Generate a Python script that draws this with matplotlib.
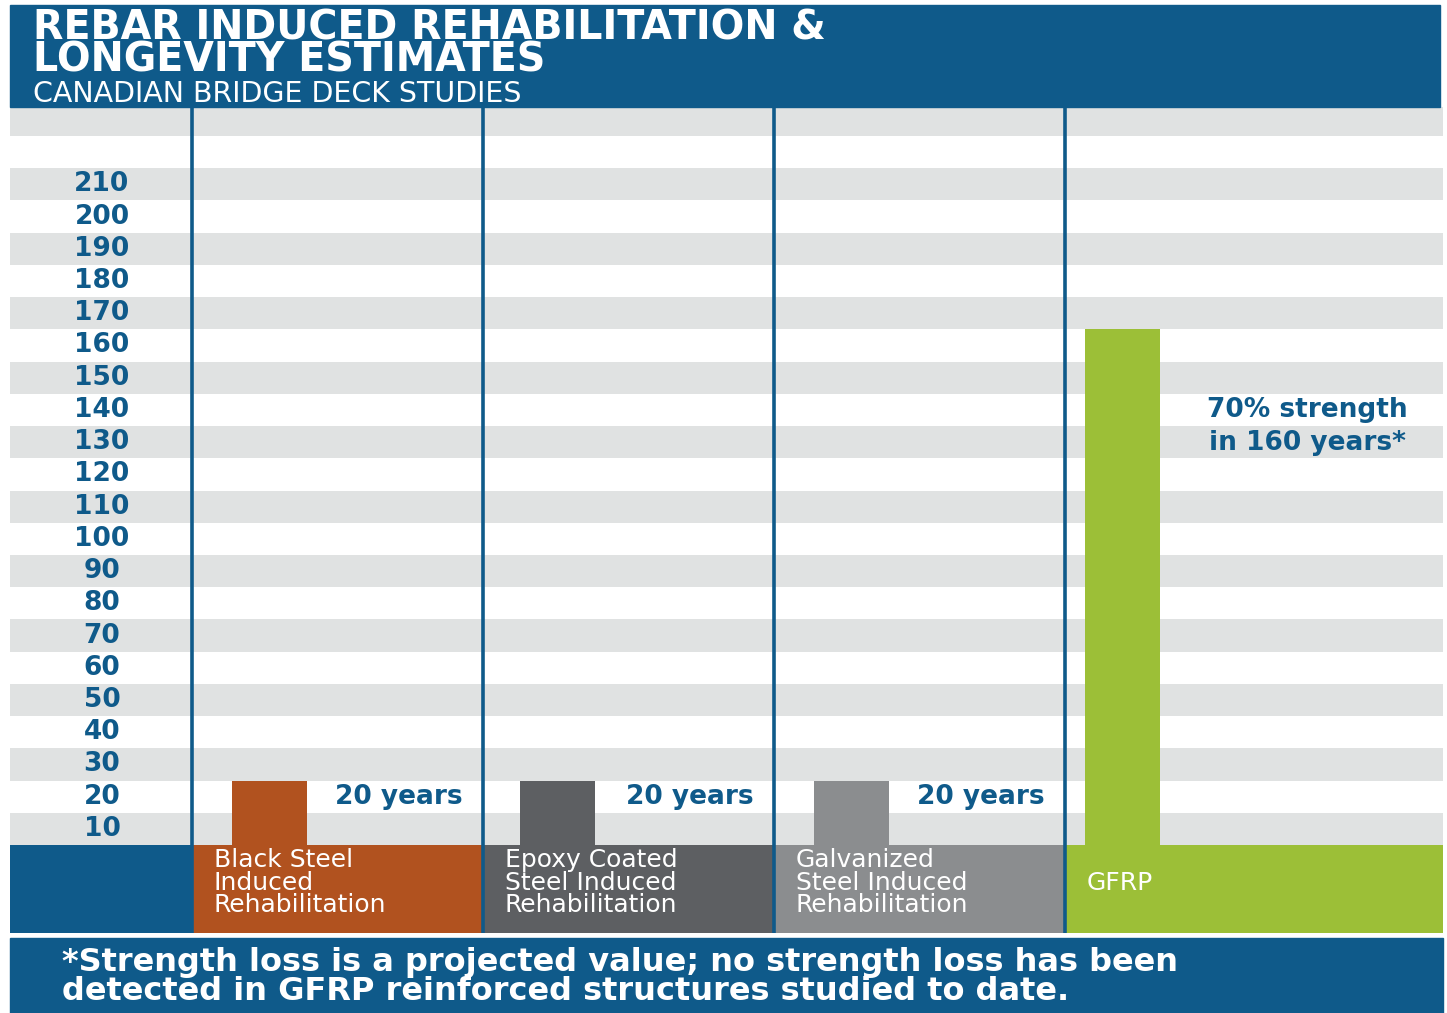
import numpy as np
import matplotlib
matplotlib.use('Agg')
import matplotlib.pyplot as plt
from matplotlib.patches import Rectangle

# lifetime estimates (years) per reinforcement type
categories = ['Black Steel\nInduced\nRehabilitation',
              'Epoxy Coated\nSteel Induced\nRehabilitation',
              'Galvanized\nSteel Induced\nRehabilitation',
              'GFRP']
years = [20, 20, 20, 160]
bar_notes = ['20 years', '20 years', '20 years', '70% strength\nin 160 years*']
tick_values = list(range(10, 220, 10))

# colours
BLUE = '#0f5a8a'
STRIPE = '#e0e2e2'
bar_colors = ['#b1521f', '#5d5f62', '#8b8d8f', '#9cbf37']

W, H = 1447, 1013
fig = plt.figure(figsize=(W / 100, H / 100), dpi=100)
fig.patch.set_facecolor('white')


def fx(px):
    return px / W


def fy(py):
    return 1 - py / H


# column layout in pixels
col_edges = [192, 483, 774, 1065, 1443]
bar_offset = [40, 37, 40, 20]
bar_width = 75

# header
fig.patches.append(Rectangle((fx(10), fy(107)), fx(1440) - fx(10), fy(5) - fy(107),
                             transform=fig.transFigure, color=BLUE, zorder=0))
fig.text(fx(33), fy(8), 'REBAR INDUCED REHABILITATION &\nLONGEVITY ESTIMATES',
         color='white', fontsize=28.5, fontweight='bold', family='DejaVu Sans',
         va='top', linespacing=0.75)
fig.text(fx(33), fy(94), 'CANADIAN BRIDGE DECK STUDIES', color='white',
         fontsize=20.5, family='DejaVu Sans', va='center')

# main striped chart area
ax = fig.add_axes([fx(10), fy(845), fx(1443) - fx(10), fy(107) - fy(845)])
ax.set_xlim(10, 1443)
ax.set_ylim(0, 229)
ax.axis('off')
for i in range(0, 23):
    if i % 2 == 0:
        ax.axhspan(i * 10, i * 10 + 10, color=STRIPE, lw=0, zorder=0)
for v in tick_values:
    ax.text(102, v - 5, str(v), ha='center', va='center', color=BLUE,
            fontsize=19, fontweight='bold', family='DejaVu Sans')
for x in col_edges[:-1]:
    ax.axvline(x, color=BLUE, lw=2.6, zorder=3)

for i, (y, c) in enumerate(zip(years, bar_colors)):
    left = col_edges[i] + bar_offset[i]
    ax.bar(left, y, width=bar_width, align='edge', color=c, lw=0, zorder=2)
    if i < 3:
        ax.text(col_edges[i + 1] - 20, y - 5, bar_notes[i], ha='right', va='center',
                color=BLUE, fontsize=19, fontweight='bold', family='DejaVu Sans')
    else:
        ax.text(1307, 130, bar_notes[i], ha='center', va='center', color=BLUE,
                fontsize=19, fontweight='bold', family='DejaVu Sans', linespacing=1.35)

# category band below the chart
band = fig.add_axes([fx(10), fy(933), fx(1443) - fx(10), fy(845) - fy(933)])
band.set_xlim(10, 1443)
band.set_ylim(0, 1)
band.axis('off')
band.axvspan(10, col_edges[0], color=BLUE, lw=0)
for i, (name, c) in enumerate(zip(categories, bar_colors)):
    band.axvspan(col_edges[i], col_edges[i + 1], color=c, lw=0)
    band.text(col_edges[i] + 22, 0.57, name, ha='left', va='center', color='white',
              fontsize=18, family='DejaVu Sans', linespacing=0.92)
for x in col_edges[:-1]:
    band.axvline(x, color=BLUE, lw=2.6, zorder=3)

# footnote box
fig.patches.append(Rectangle((fx(10), fy(1013)), fx(1443) - fx(10), fy(938) - fy(1013),
                             transform=fig.transFigure, color=BLUE, zorder=0))
fig.text(fx(62), fy(977), '*Strength loss is a projected value; no strength loss has been\n'
         'detected in GFRP reinforced structures studied to date.',
         color='white', fontsize=23, fontweight='bold', family='DejaVu Sans',
         va='center', linespacing=0.88)

fig.savefig('out.png', dpi=100, facecolor=fig.get_facecolor())
